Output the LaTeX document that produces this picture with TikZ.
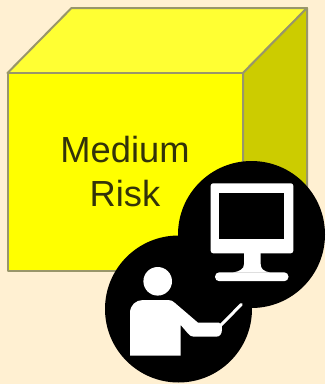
\documentclass[tikz,border=0pt]{standalone}
\usepackage{fontspec}
\setmainfont{Liberation Sans}
\definecolor{bgc}{HTML}{FFF0D2}
\definecolor{frontc}{HTML}{FFFF00}
\definecolor{topc}{HTML}{FFFF33}
\definecolor{sidec}{HTML}{CCCC00}
\definecolor{edgec}{HTML}{99966A}
\definecolor{textc}{HTML}{33330A}
\tikzset{
  face/.style={draw=edgec,line width=2pt,line join=round},
  disc/.style={fill=black},
  glyph/.style={fill=white},
  label/.style={text=textc,font=\fontsize{36.3pt}{44pt}\selectfont,align=center,inner sep=0pt}
}
\begin{document}
\begin{tikzpicture}[x=1pt,y=-1pt]
\path[use as bounding box,fill=bgc] (0,0) rectangle (325,384);
% box
\draw[face,fill=topc] (7.5,73) -- (71.5,8) -- (307,8) -- (243,73) -- cycle;
\draw[face,fill=sidec] (243,73) -- (307,8) -- (307,206) -- (243,271) -- cycle;
\draw[face,fill=frontc] (7.5,73) rectangle (243,271);
\node[label] (risk) at (125,171.3) {Medium\\Risk};
% discs
\fill[disc] (251.5,234.5) circle (73.5);
\fill[disc] (178.5,309) circle (73.5);
% monitor
\fill[glyph,rounded corners=2.5pt] (210.7,183.3) rectangle (293.3,253.3);
\fill[black] (219.3,193.3) rectangle (284.3,239.3);
\fill[glyph] (244,252) -- (244,264) .. controls (244,269) and (240,271) .. (233,272.6) -- (270,272.6) .. controls (263.5,271) and (260.7,269) .. (260.7,264) -- (260.7,252) -- cycle;
\fill[glyph,rounded corners=4.3pt] (215,272.3) rectangle (288.5,281.2);
% presenter
\fill[glyph] (157.7,281.3) circle (14.3);
\fill[glyph] (130,355.7) -- (130,313) .. controls (130,305) and (136,300) .. (143,300) -- (168,300)
  .. controls (171,300) and (173,301) .. (175,303) -- (198,322.7) -- (219,322.7)
  .. controls (221,322.7) and (222,325) .. (222,329) .. controls (222,334) and (220,336.7) .. (216,336.7)
  -- (194,336.7) .. controls (191,336.7) and (190,335.5) .. (188,333.5) -- (180.7,325) -- (180.7,355.7) -- cycle;
\draw[white,line width=3pt,line cap=round] (220,326) -- (241.3,304.5);
\end{tikzpicture}
\end{document}
